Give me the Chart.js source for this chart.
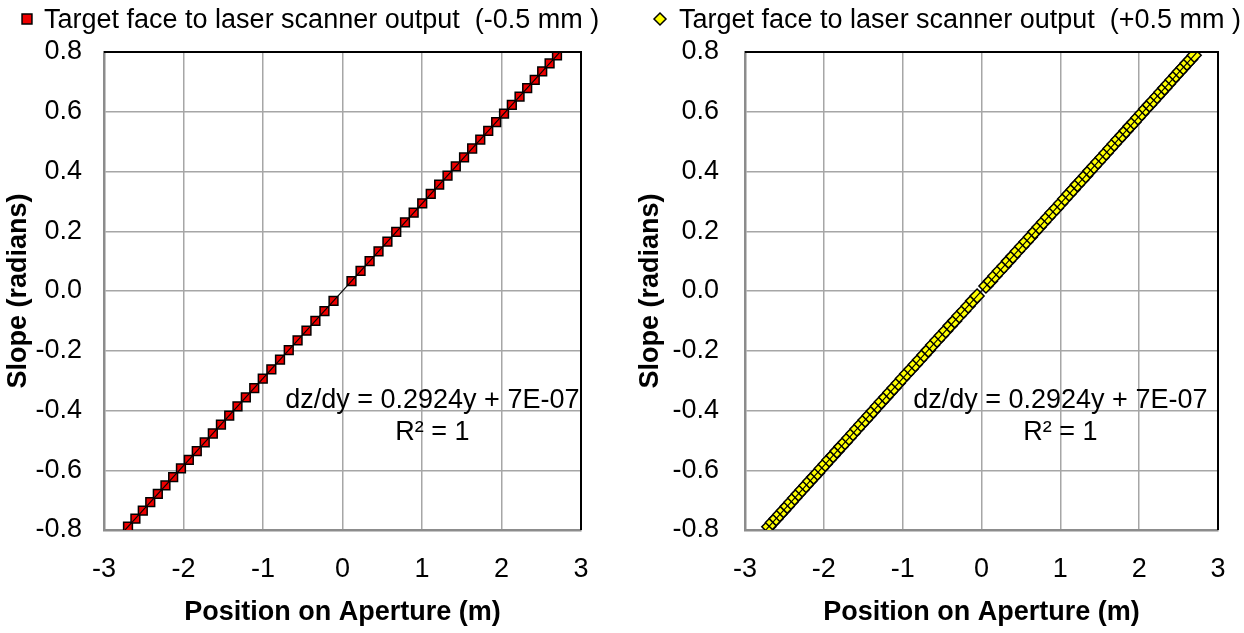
<!DOCTYPE html>
<html>
<head>
<meta charset="utf-8">
<script src="https://cdn.jsdelivr.net/npm/chart.js@4"></script>
<style>
  html, body { margin: 0; padding: 0; background: #fff; overflow: hidden; }
  .pane { position: absolute; top: 0; height: 633px; }
  #pane-minus { left: 0; width: 622px; }
  #pane-plus  { left: 606px; width: 638px; }
</style>
</head>
<body>
<div class="pane" id="pane-minus"><canvas id="chart-minus" width="622" height="633"></canvas></div>
<div class="pane" id="pane-plus"><canvas id="chart-plus" width="638" height="633"></canvas></div>
<script>
// -0.5 mm offset: positions on aperture (m) and measured slope (rad)
const minusX = [
  -2.698, -2.605, -2.512, -2.418, -2.323, -2.227, -2.130, -2.032, -1.933, -1.833, -1.733, -1.631, -1.529,
  -1.425, -1.321, -1.216, -1.110, -1.003, -0.895, -0.786, -0.676, -0.565, -0.453, -0.341, -0.227, -0.113,
  0.113, 0.227, 0.341, 0.453, 0.565, 0.676, 0.786, 0.895, 1.003, 1.110, 1.216, 1.321, 1.425,
  1.529, 1.631, 1.733, 1.833, 1.933, 2.032, 2.130, 2.227, 2.323, 2.418, 2.512, 2.605, 2.698
];
const minusY = [
  -0.789, -0.762, -0.735, -0.707, -0.679, -0.651, -0.623, -0.594, -0.565, -0.536, -0.507, -0.477, -0.447,
  -0.417, -0.386, -0.356, -0.325, -0.293, -0.262, -0.230, -0.198, -0.165, -0.133, -0.100, -0.067, -0.033,
  0.033, 0.067, 0.100, 0.133, 0.165, 0.198, 0.230, 0.262, 0.293, 0.325, 0.356, 0.386, 0.417,
  0.447, 0.477, 0.507, 0.536, 0.565, 0.594, 0.623, 0.651, 0.679, 0.707, 0.735, 0.762, 0.789
];

// +0.5 mm offset: twice as many samples
const plusX = [
  -2.698, -2.652, -2.605, -2.559, -2.512, -2.465, -2.418, -2.370, -2.323, -2.275, -2.227, -2.179, -2.130,
  -2.081, -2.032, -1.983, -1.933, -1.883, -1.834, -1.783, -1.733, -1.682, -1.631, -1.580, -1.529, -1.477,
  -1.425, -1.374, -1.321, -1.269, -1.216, -1.163, -1.110, -1.056, -1.003, -0.949, -0.895, -0.840, -0.786,
  -0.731, -0.676, -0.620, -0.565, -0.509, -0.454, -0.397, -0.341, -0.284, -0.227, -0.170, -0.113, -0.056,
  0.056, 0.113, 0.170, 0.227, 0.284, 0.341, 0.397, 0.454, 0.509, 0.565, 0.620, 0.676, 0.731,
  0.786, 0.840, 0.895, 0.949, 1.003, 1.056, 1.110, 1.163, 1.216, 1.269, 1.321, 1.374, 1.425,
  1.477, 1.529, 1.580, 1.631, 1.682, 1.733, 1.783, 1.834, 1.883, 1.933, 1.983, 2.032, 2.081,
  2.130, 2.179, 2.227, 2.275, 2.323, 2.370, 2.418, 2.465, 2.512, 2.559, 2.605, 2.652, 2.698
];
const plusY = [
  -0.789, -0.775, -0.762, -0.748, -0.735, -0.721, -0.707, -0.693, -0.679, -0.665, -0.651, -0.637, -0.623,
  -0.609, -0.594, -0.580, -0.565, -0.551, -0.536, -0.521, -0.507, -0.492, -0.477, -0.462, -0.447, -0.432,
  -0.417, -0.402, -0.386, -0.371, -0.356, -0.340, -0.325, -0.309, -0.293, -0.277, -0.262, -0.246, -0.230,
  -0.214, -0.198, -0.181, -0.165, -0.149, -0.133, -0.116, -0.100, -0.083, -0.067, -0.050, -0.033, -0.017,
  0.017, 0.033, 0.050, 0.067, 0.083, 0.100, 0.116, 0.133, 0.149, 0.165, 0.181, 0.198, 0.214,
  0.230, 0.246, 0.262, 0.277, 0.293, 0.309, 0.325, 0.340, 0.356, 0.371, 0.386, 0.402, 0.417,
  0.432, 0.447, 0.462, 0.477, 0.492, 0.507, 0.521, 0.536, 0.551, 0.565, 0.580, 0.594, 0.609,
  0.623, 0.637, 0.651, 0.665, 0.679, 0.693, 0.707, 0.721, 0.735, 0.748, 0.762, 0.775, 0.789
];

// linear trend line ends (dz/dy = 0.2924y + 7E-07)
const trendX = [-2.74, 2.74];
const trendY = [-0.801, 0.801];
const fitText = ['dz/dy = 0.2924y + 7E-07', 'R\u00b2 = 1'];

const xTicks = [-3, -2, -1, 0, 1, 2, 3];
const yTicks = [-0.8, -0.6, -0.4, -0.2, 0.0, 0.2, 0.4, 0.6, 0.8];

const FONT = "'Liberation Sans', Arial, sans-serif";
const SIZE = 27;
const GRID = '#a6a6a6';
const AXIS = '#8c8c8c';

Chart.defaults.font.family = FONT;
Chart.defaults.font.size = SIZE;
Chart.defaults.color = '#000';

const pts = (xs, ys) => xs.map((x, i) => ({ x, y: ys[i] }));

// legend entry drawn at a fixed spot above the plot
const legendMark = {
  id: 'legendMark',
  afterDraw(chart, args, o) {
    const ds = chart.data.datasets[1];
    const ctx = chart.ctx;
    ctx.save();
    ctx.fillStyle = ds.pointBackgroundColor;
    ctx.strokeStyle = ds.pointBorderColor;
    ctx.lineWidth = 1.5;
    Chart.helpers.drawPoint(ctx, { pointStyle: ds.pointStyle, radius: o.radius, borderWidth: 1.5 }, o.x, o.y);
    ctx.fillStyle = '#000';
    ctx.font = SIZE + 'px ' + FONT;
    ctx.textBaseline = 'alphabetic';
    ctx.textAlign = 'left';
    ctx.fillText(ds.label, o.textX, o.baseline);
    ctx.restore();
  }
};

// black frame on the top and right of the plot area
const frame = {
  id: 'frame',
  afterDatasetsDraw(chart) {
    const { ctx, chartArea: a } = chart;
    ctx.save();
    ctx.strokeStyle = '#000';
    ctx.lineWidth = 2;
    ctx.beginPath();
    ctx.moveTo(a.left, a.top);
    ctx.lineTo(a.right, a.top);
    ctx.lineTo(a.right, a.bottom);
    ctx.stroke();
    ctx.restore();
  }
};

// trend line equation placed in data coordinates
const fitLabel = {
  id: 'fitLabel',
  afterDatasetsDraw(chart, args, o) {
    const { ctx, scales } = chart;
    const x = scales.x.getPixelForValue(o.x);
    ctx.save();
    ctx.fillStyle = '#000';
    ctx.font = SIZE + 'px ' + FONT;
    ctx.textAlign = 'center';
    ctx.textBaseline = 'alphabetic';
    fitText.forEach((t, i) => ctx.fillText(t, x, scales.y.getPixelForValue(o.y[i])));
    ctx.restore();
  }
};

// keep tick label overhang from pushing the plot area around
const noOverhang = s => {
  s.paddingTop = 0; s.paddingBottom = 0; s.paddingLeft = 0; s.paddingRight = 0;
};

function makeChart(id, cfg) {
  return new Chart(document.getElementById(id), {
    type: 'scatter',
    data: {
      datasets: [
        {
          label: 'trend',
          data: pts(trendX, trendY),
          showLine: true,
          borderColor: '#000',
          borderWidth: 1.2,
          pointRadius: 0,
          order: 0,
        },
        {
          label: cfg.label,
          data: pts(cfg.xs, cfg.ys),
          pointStyle: cfg.style,
          pointRadius: cfg.radius,
          pointBackgroundColor: cfg.fill,
          pointBorderColor: '#000',
          pointBorderWidth: 1.5,
          backgroundColor: cfg.fill,
          borderColor: '#000',
          order: 1,
        },
      ],
    },
    options: {
      responsive: false,
      animation: false,
      events: [],
      layout: { autoPadding: false, padding: { top: 52, right: cfg.padRight, bottom: 0, left: 0 } },
      plugins: {
        legend: { display: false },
        tooltip: { enabled: false },
        legendMark: cfg.legend,
        fitLabel: cfg.fit,
      },
      scales: {
        x: {
          type: 'linear',
          min: -3, max: 3,
          afterBuildTicks: s => { s.ticks = xTicks.map(v => ({ value: v })); },
          afterFit: s => { s.height = 103; noOverhang(s); },
          grid: { color: GRID, lineWidth: 1.5, drawTicks: false },
          border: { color: AXIS, width: 2.5 },
          ticks: { padding: 23 },
          title: {
            display: true,
            text: 'Position on Aperture (m)',
            font: { size: SIZE, weight: 'bold' },
            padding: { top: 0, bottom: 4 },
          },
        },
        y: {
          type: 'linear',
          min: -0.8, max: 0.8,
          afterBuildTicks: s => { s.ticks = yTicks.map(v => ({ value: v })); },
          afterFit: s => { s.width = cfg.yWidth; noOverhang(s); },
          grid: { color: GRID, lineWidth: 1.5, drawTicks: false },
          border: { color: AXIS, width: 2.5 },
          ticks: { padding: cfg.tickPad, callback: v => v.toFixed(1) },
          title: {
            display: true,
            text: 'Slope (radians)',
            font: { size: SIZE, weight: 'bold' },
            padding: { top: cfg.titlePad, bottom: 0 },
          },
        },
      },
    },
    plugins: [legendMark, frame, fitLabel],
  });
}

makeChart('chart-minus', {
  label: 'Target face to laser scanner output  (-0.5 mm )',
  xs: minusX, ys: minusY,
  style: 'rect', radius: 6.2, fill: '#ee0000',
  legend: { x: 27, y: 19, textX: 44, baseline: 28, radius: 7 },
  fit: { x: 1.13, y: [-0.392, -0.499] },
  padRight: 41, yWidth: 104, tickPad: 22, titlePad: 2,
});

makeChart('chart-plus', {
  label: 'Target face to laser scanner output  (+0.5 mm )',
  xs: plusX, ys: plusY,
  style: 'rectRot', radius: 7, fill: '#ffff00',
  legend: { x: 54, y: 19, textX: 73, baseline: 28, radius: 6 },
  fit: { x: 1.0, y: [-0.392, -0.499] },
  padRight: 26, yWidth: 139, tickPad: 26, titlePad: 28,
});
</script>
</body>
</html>
